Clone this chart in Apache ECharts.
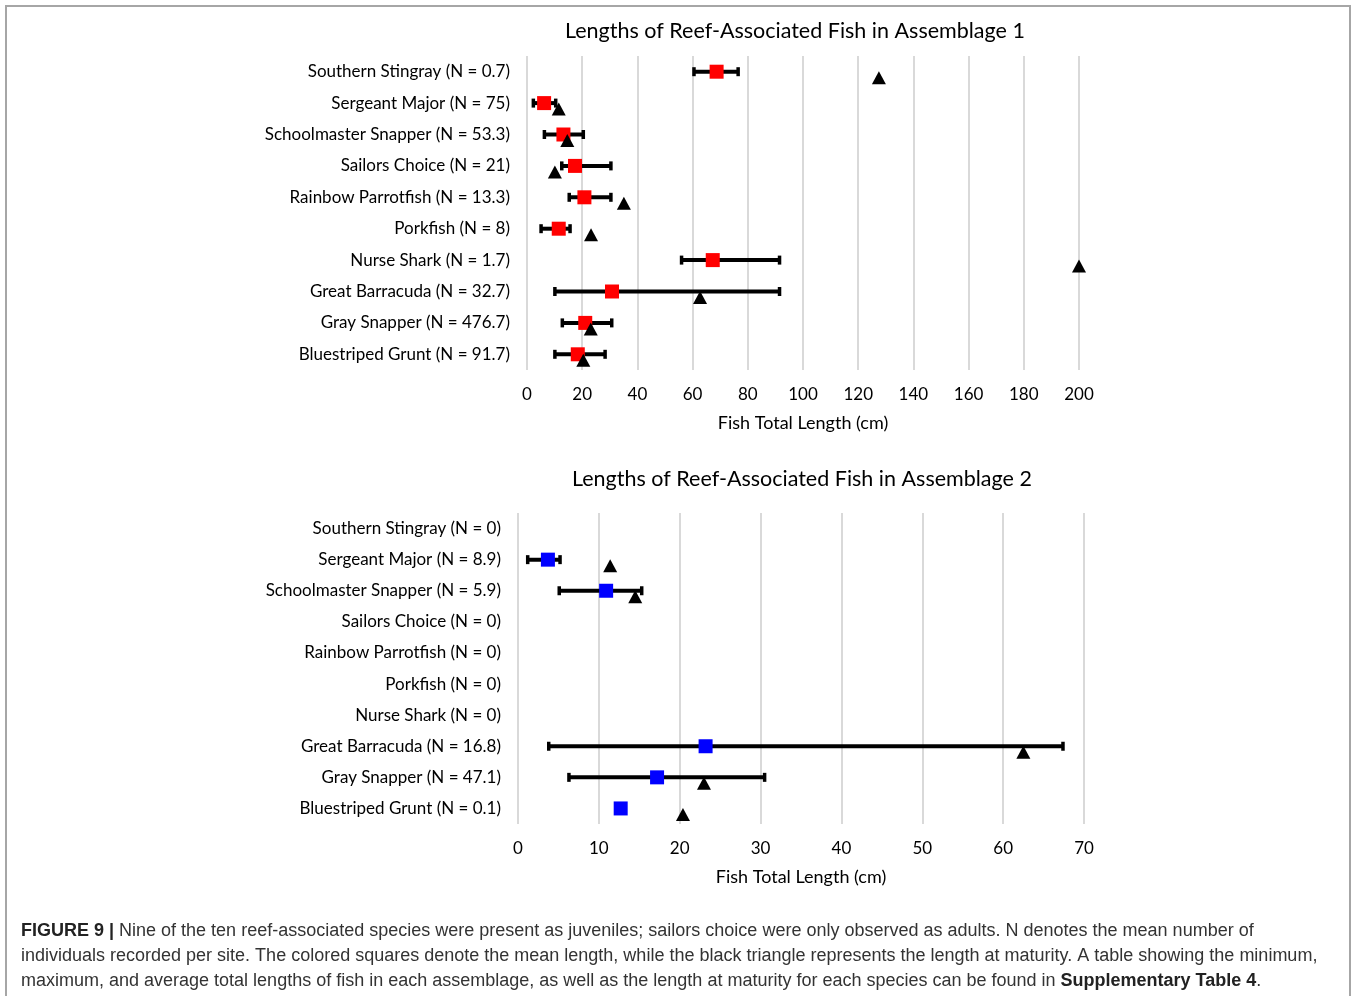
<!DOCTYPE html>
<html><head><meta charset="utf-8">
<script src="https://cdn.jsdelivr.net/npm/echarts@6/dist/echarts.min.js"></script>
<style>html,body{margin:0;padding:0;background:#fff}#c{width:1356px;height:996px}</style>
</head><body><div id="c"></div>
<script>
const categories1 = ['Southern Stingray (N = 0.7)', 'Sergeant Major (N = 75)', 'Schoolmaster Snapper (N = 53.3)', 'Sailors Choice (N = 21)', 'Rainbow Parrotfish (N = 13.3)', 'Porkfish (N = 8)', 'Nurse Shark (N = 1.7)', 'Great Barracuda (N = 32.7)', 'Gray Snapper (N = 476.7)', 'Bluestriped Grunt (N = 91.7)'];
const mean1 = [68.7, 6.2, 13.2, 17.4, 20.8, 11.5, 67.3, 30.8, 21.1, 18.4];
const min1 = [60.5, 2.3, 6.3, 12.6, 15.3, 5.1, 56.0, 10.1, 12.8, 10.1];
const max1 = [76.5, 10.4, 20.4, 30.4, 30.4, 15.6, 91.5, 91.5, 30.7, 28.3];
const mature1 = [127.5, 11.5, 14.6, 10.1, 35.1, 23.2, 200, 62.7, 23.1, 20.4];

const categories2 = ['Southern Stingray (N = 0)', 'Sergeant Major (N = 8.9)', 'Schoolmaster Snapper (N = 5.9)', 'Sailors Choice (N = 0)', 'Rainbow Parrotfish (N = 0)', 'Porkfish (N = 0)', 'Nurse Shark (N = 0)', 'Great Barracuda (N = 16.8)', 'Gray Snapper (N = 47.1)', 'Bluestriped Grunt (N = 0.1)'];
const mean2 = [null, 3.7, 10.9, null, null, null, null, 23.2, 17.2, 12.7];
const min2 = [null, 1.2, 5.1, null, null, null, null, 3.8, 6.3, null];
const max2 = [null, 5.2, 15.3, null, null, null, null, 67.4, 30.5, null];
const mature2 = [null, 11.4, 14.5, null, null, null, null, 62.5, 23.0, 20.4];

const ticks1 = {min: 0, max: 200, interval: 20};
const ticks2 = {min: 0, max: 70, interval: 10};

const FONT = 'Lato, "Open Sans", sans-serif';

function pts(vals) { const out = []; vals.forEach((v, i) => { if (v != null) out.push([v, i]); }); return out; }
function bars(lo, hi) { const out = []; lo.forEach((v, i) => { if (v != null && hi[i] != null) out.push([i, v, hi[i]]); }); return out; }

function renderErr(params, api) {
  const i = api.value(0);
  const a = api.coord([api.value(1), i]);
  const b = api.coord([api.value(2), i]);
  const st = {stroke: '#000', lineWidth: 4};
  const cap = {stroke: '#000', lineWidth: 3.5};
  return {type: 'group', children: [
    {type: 'line', shape: {x1: a[0], y1: a[1], x2: b[0], y2: b[1]}, style: st},
    {type: 'line', shape: {x1: a[0], y1: a[1] - 4.5, x2: a[0], y2: a[1] + 4.5}, style: cap},
    {type: 'line', shape: {x1: b[0], y1: b[1] - 4.5, x2: b[0], y2: b[1] + 4.5}, style: cap}
  ]};
}

function xAx(idx, t) {
  return {type: 'value', gridIndex: idx, min: t.min, max: t.max, interval: t.interval,
    name: 'Fish Total Length (cm)', nameLocation: 'middle', nameGap: 44,
    nameTextStyle: {fontFamily: FONT, fontSize: 18, color: '#000'},
    axisLine: {show: false}, axisTick: {show: false},
    axisLabel: {fontFamily: FONT, fontSize: 17, color: '#000', margin: 16},
    splitLine: {show: true, lineStyle: {color: '#d9d9d9', width: 2}}};
}
function yAx(idx, cats) {
  return {type: 'category', gridIndex: idx, data: cats, inverse: true,
    axisLine: {show: false}, axisTick: {show: false}, splitLine: {show: false},
    axisLabel: {fontFamily: FONT, fontSize: 17, color: '#000', margin: 17}};
}

const chart = echarts.init(document.getElementById('c'), null, {renderer: 'canvas'});
chart.setOption({
  animation: false,
  backgroundColor: '#fff',
  title: [
    {text: 'Lengths of Reef-Associated Fish in Assemblage 1', left: 560, top: 15,
      textStyle: {fontFamily: FONT, fontSize: 21.5, fontWeight: 'normal', color: '#000'}},
    {text: 'Lengths of Reef-Associated Fish in Assemblage 2', left: 567, top: 463,
      textStyle: {fontFamily: FONT, fontSize: 21.5, fontWeight: 'normal', color: '#000'}}
  ],
  grid: [
    {left: 527, right: 277, top: 56, height: 314},
    {left: 518, right: 272, top: 513, height: 311}
  ],
  xAxis: [xAx(0, ticks1), xAx(1, ticks2)],
  yAxis: [yAx(0, categories1), yAx(1, categories2)],
  series: [
    {type: 'custom', xAxisIndex: 0, yAxisIndex: 0, renderItem: renderErr, data: bars(min1, max1), encode: {x: [1, 2], y: 0}, z: 2},
    {type: 'scatter', xAxisIndex: 0, yAxisIndex: 0, data: pts(mean1), symbol: 'rect', symbolSize: 14, itemStyle: {color: '#ff0000', opacity: 1}, z: 3},
    {type: 'scatter', xAxisIndex: 0, yAxisIndex: 0, data: pts(mature1), symbol: 'triangle', symbolSize: [14, 13], symbolOffset: [0, 6], itemStyle: {color: '#000', opacity: 1}, z: 4},
    {type: 'custom', xAxisIndex: 1, yAxisIndex: 1, renderItem: renderErr, data: bars(min2, max2), encode: {x: [1, 2], y: 0}, z: 2},
    {type: 'scatter', xAxisIndex: 1, yAxisIndex: 1, data: pts(mean2), symbol: 'rect', symbolSize: 14, itemStyle: {color: '#0000ff', opacity: 1}, z: 3},
    {type: 'scatter', xAxisIndex: 1, yAxisIndex: 1, data: pts(mature2), symbol: 'triangle', symbolSize: [14, 13], symbolOffset: [0, 6], itemStyle: {color: '#000', opacity: 1}, z: 4}
  ],
  graphic: [
    {type: 'rect', shape: {x: 6, y: 6, width: 1344, height: 1000}, style: {fill: 'none', stroke: '#a6a6a6', lineWidth: 2}, silent: true},
    {type: 'text', left: 21, top: 919, style: {
      text: '{b|FIGURE 9 |} Nine of the ten reef-associated species were present as juveniles; sailors choice were only observed as adults. N denotes the mean number of\nindividuals recorded per site. The colored squares denote the mean length, while the black triangle represents the length at maturity. A table showing the minimum,\nmaximum, and average total lengths of fish in each assemblage, as well as the length at maturity for each species can be found in {b|Supplementary Table 4}.',
      font: '18px "Liberation Sans", Arial, sans-serif', fill: '#333', lineHeight: 25,
      rich: {b: {fontWeight: 'bold', fontFamily: '"Liberation Sans", Arial, sans-serif', fontSize: 18, fill: '#222', lineHeight: 25}}
    }}
  ]
});
</script></body></html>
